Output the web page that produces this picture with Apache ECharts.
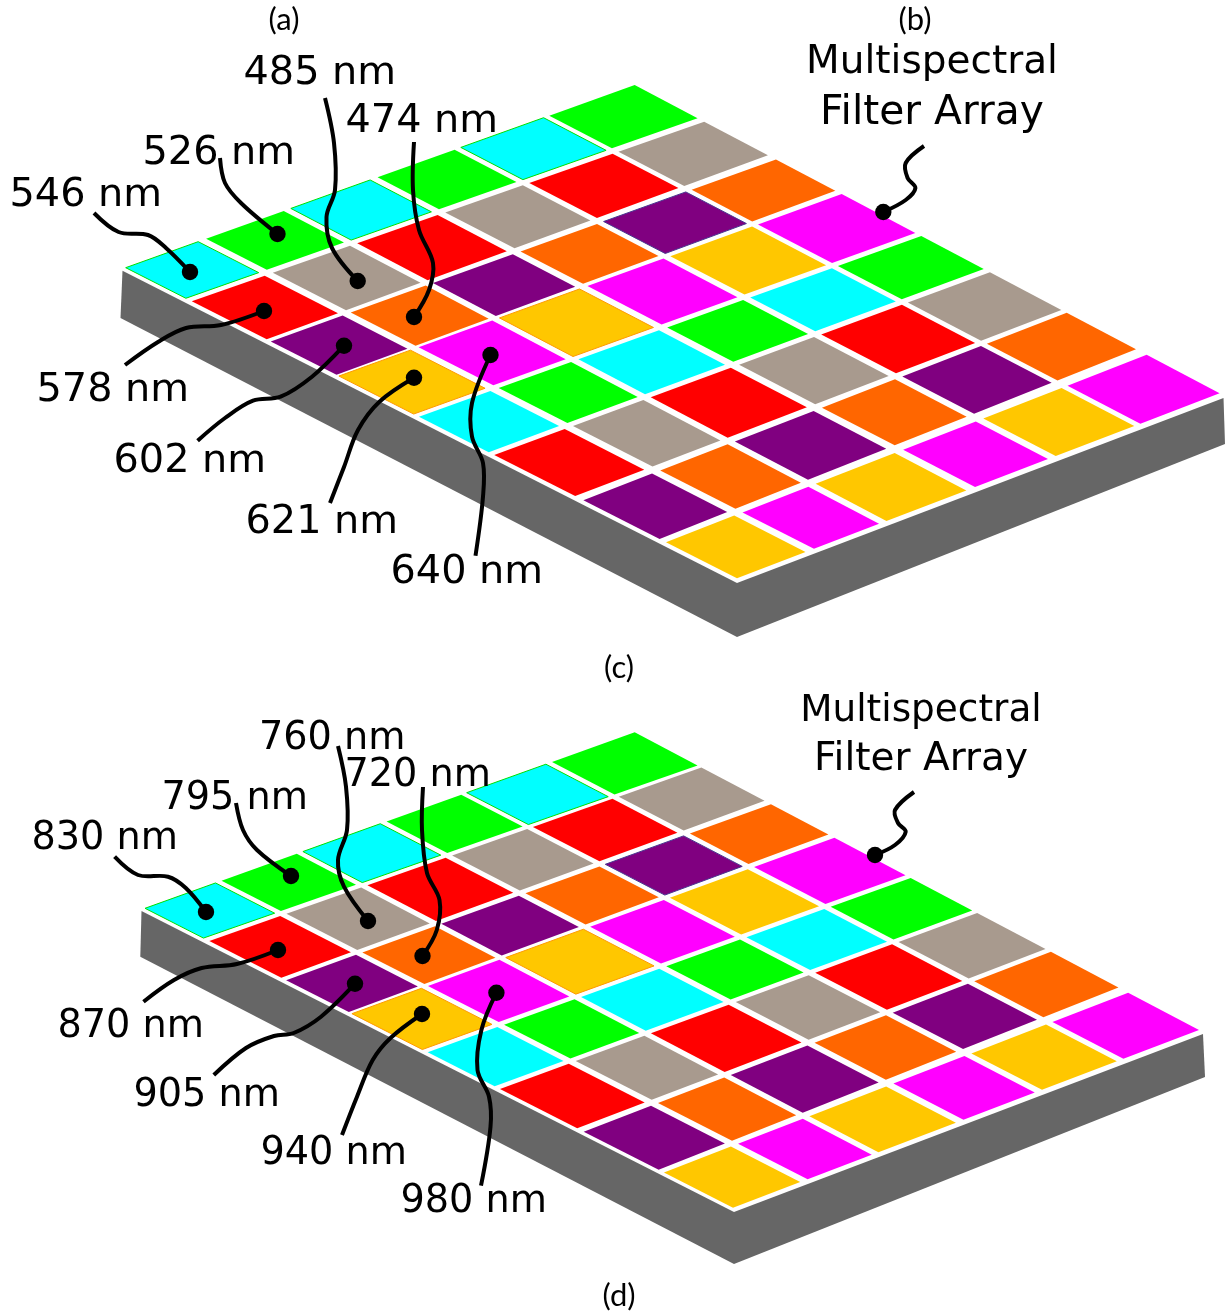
<!DOCTYPE html>
<html>
<head>
<meta charset="utf-8">
<style>html,body{margin:0;padding:0;background:#fff}#chart{width:1225px;height:1312px}</style>
<script src="https://cdn.jsdelivr.net/npm/echarts@6/dist/echarts.min.js"></script>
</head>
<body>
<div id="chart"></div>
<script>
// ---- filter mosaic: one 6 x 8 layout shared by both panels ----
const cellRows = [
  ['cyan','red','purple','yellow','cyan','red','purple','yellow'],
  ['green','gray','orange','magenta','green','gray','orange','magenta'],
  ['cyan','red','purple','yellow','cyan','red','purple','yellow'],
  ['green','gray','orange','magenta','green','gray','orange','magenta'],
  ['cyan','red','purple','yellow','cyan','red','purple','yellow'],
  ['green','gray','orange','magenta','green','gray','orange','magenta']
];
const labelsTop = ['546 nm','526 nm','485 nm','474 nm','578 nm','602 nm','621 nm','640 nm'];
const labelsBottom = ['830 nm','795 nm','760 nm','720 nm','870 nm','905 nm','940 nm','980 nm'];
const calloutLines = ['Multispectral','Filter Array'];
const panelTags = ['(a)','(b)','(c)','(d)'];

// ---- layout (separate from the values above) ----
const palette = {cyan:'#00FFFF',green:'#00FF00',red:'#FF0000',gray:'#A89A8E',purple:'#800080',orange:'#FF6600',yellow:'#FFC700',magenta:'#FF00FF'};
const outlined = [[0,0,'#00E000'],[0,2,'#00E000'],[0,4,'#00E000'],[3,0,'#FF9A00'],[3,2,'#FF9A00'],[2,4,'#4A3590']];
// tile start/end points read along the four rims of each mosaic
const panels = [
  {edgeA:[[125.7,267.7],[185.8,298.3],[190.5,301.7],[266.8,339.3],[272.7,340.7],[336,375],[339,376],[413,414.3],[421.7,415.7],[490,451.7],[496,454.3],[578,495],[584,500],[661.3,538.3],[663.2,543.3],[737,578.3]],
   edgeB:[[634.7,85],[698,118],[704,121.7],[768.6,155],[776.4,159.3],[835.4,190.7],[842,194],[916,232.7],[922.3,235.7],[985.6,268.3],[991.4,271.7],[1062.9,309.3],[1066.7,312.7],[1136.6,349],[1146.3,355],[1219.6,393.3]],
   edgeC:[[125.7,267.7],[198.8,242],[207,239.3],[283.8,211],[292.5,209.3],[370.8,180.3],[378.3,177.7],[455.3,150],[462.5,148.3],[544.7,118.3],[549.4,115.7],[634.7,85]],
   edgeD:[[737,578.3],[808,553.3],[811,547.3],[878,523.3],[884.5,520],[967.5,491],[972.5,485.7],[1047.8,459],[1055.5,456],[1134.3,426],[1138.5,422.7],[1219.6,393.3]],
   side:[[122.5,270.7],[737,583],[1223.5,398],[1225,444],[737,637],[120.5,318]]},
  {edgeA:[[145,908.3],[202.8,938.3],[207.5,941.7],[281.4,977.7],[286.6,980],[349.8,1011.7],[351,1014],[421,1050],[429.2,1051.7],[496.4,1085.7],[502,1088.3],[580,1127.3],[585.4,1131],[660,1169.3],[662,1173.3],[733,1207.7]],
   edgeB:[[634.7,732.3],[696,766],[701.9,767.3],[764.8,800.7],[771.4,804],[828.9,834.3],[835.4,837.3],[906,875],[912.3,877.3],[973.3,910],[979,912.3],[1047.4,948.3],[1051.3,951.7],[1118.9,987.3],[1128,992.7],[1199,1030]],
   edgeC:[[145,908.3],[216.2,883.3],[223.3,881.7],[297.2,854],[305.1,852.7],[381.4,824.3],[388.1,822.3],[462.5,795.3],[469.2,794],[547.4,765],[552.6,762.3],[634.7,732.3]],
   edgeD:[[733,1207.7],[802.6,1183.3],[804.6,1177.7],[870.2,1154],[876,1151],[955.9,1122.7],[960.5,1118.3],[1033,1091.7],[1040.9,1089.3],[1116.2,1061],[1121.2,1057.7],[1199,1030]],
   side:[[141.5,911],[734,1212],[1203,1034],[1205,1077],[734,1264],[140.3,956.7]]}
];
const labelPosTop = [[9.5,196],[142.5,154],[243.5,74],[345.5,122],[36.5,391],[113.5,462],[245.5,523],[390.5,573]];
const labelPosBottom = [[31.5,839],[161.5,799],[259,739],[344.5,776],[57.5,1027],[133.5,1096],[260.5,1154],[400.5,1202]];
const calloutPos = [[932,63,39],[932,113,40.8],[921,711,37.4],[921,760,39]];
const tagPos = [[284,20],[915,20],[619,668],[619,1296]];

const leaders = [
  [[94,213],[118.6,232],[148,235],[166,248],[190,272]],
  [[220,158],[225,183],[241,203],[277.5,234]],
  [[325,98],[334,143],[335,190],[326.5,217],[332,248],[357.7,281]],
  [[414,142],[413,190],[419,230],[433,263],[429,290],[414,317]],
  [[125,365],[158,342],[186,328],[221,325],[264,311]],
  [[197.6,440.7],[225,418],[253,400.7],[280.6,396.7],[312,376.7],[344,345.7]],
  [[330,503],[344,467],[358,430],[379.4,401.7],[414,377.7]],
  [[475.5,555.7],[483,496.7],[483,463],[472,436.7],[472,403],[490.5,355]],
  [[924,146],[905.7,163],[907.6,178],[915.4,188],[905.7,200],[883.3,212]],
  [[114.6,856.7],[138,875],[168,876.7],[185.8,888],[206,912]],
  [[236,803],[243,830],[257,850],[291,876]],
  [[338,746],[346,786.7],[347,830],[338,860],[344,886.7],[368,921]],
  [[423,787],[422,830],[427,873],[439.5,900],[436.8,930],[422.5,956]],
  [[143.5,1001.7],[174,980],[201.6,968],[237,964],[278,950]],
  [[213.8,1075],[246,1048],[274,1036],[293.7,1033],[321,1016.7],[355,983.7]],
  [[342,1135],[357,1096.7],[372.7,1060],[390.5,1038],[422,1014]],
  [[481,1185.7],[490.5,1126.7],[489,1096.7],[477.5,1070],[481.4,1030],[496.4,992.7]],
  [[914,792],[895,810],[898,823],[905.7,831.7],[895,845],[875,855]]
];

// a mosaic vertex is where an "along" rule (edgeA to edgeB) meets an "across" rule (edgeC to edgeD)
function vertex(p, k, l) {
  const a=p.edgeA[k], b=p.edgeB[k], c=p.edgeC[l], d=p.edgeD[l];
  const rx=b[0]-a[0], ry=b[1]-a[1], sx=d[0]-c[0], sy=d[1]-c[1];
  const den=rx*sy-ry*sx;
  const t=((c[0]-a[0])*sy-(c[1]-a[1])*sx)/den;
  return [a[0]+t*rx,a[1]+t*ry];
}

// ---- tables built from the arrays above ----
const tileData = [];
panels.forEach((_,pi)=>cellRows.forEach((row,across)=>row.forEach((name,along)=>{
  const o = outlined.find(q=>q[0]===along&&q[1]===across);
  tileData.push({value:[pi,along,across],name,edge:o?o[2]:null});
})));
const sideData = panels.map((_,i)=>[i]);
const textItems = [];
labelsTop.forEach((t,i)=>textItems.push({t,x:labelPosTop[i][0],y:labelPosTop[i][1],size:39.8,align:'left',font:'DejaVu Sans'}));
labelsBottom.forEach((t,i)=>textItems.push({t,x:labelPosBottom[i][0],y:labelPosBottom[i][1],size:38.2,align:'left',font:'DejaVu Sans'}));
[0,1,0,1].forEach((li,i)=>textItems.push({t:calloutLines[li],x:calloutPos[i][0],y:calloutPos[i][1],size:calloutPos[i][2],align:'center',font:'DejaVu Sans'}));
panelTags.forEach((t,i)=>textItems.push({t,x:tagPos[i][0],y:tagPos[i][1],size:31,align:'center',font:'Lato'}));

const blank = {show:false};
const option = {
  animation:false,
  backgroundColor:'#fff',
  grid:{left:0,right:0,top:0,bottom:0},
  xAxis:{type:'value',min:0,max:1225,axisLine:blank,axisTick:blank,axisLabel:blank,splitLine:blank},
  yAxis:{type:'value',min:0,max:1312,inverse:true,axisLine:blank,axisTick:blank,axisLabel:blank,splitLine:blank},
  series:[
    {type:'custom',silent:true,clip:false,data:sideData,z:1,encode:{x:[],y:[]},
     renderItem(params,api){
       const s = panels[params.dataIndex].side;
       const poly = idx=>({type:'polygon',shape:{points:idx.map(k=>api.coord(s[k]))},style:{fill:'#666666'}});
       return {type:'group',children:[poly([0,1,4,5]),poly([1,2,3,4])]};
     }},
    {type:'custom',silent:true,clip:false,data:tileData,z:2,encode:{x:[],y:[]},
     renderItem(params,api){
       const pi=api.value(0), a=api.value(1), c=api.value(2), p=panels[pi], item=tileData[params.dataIndex];
       const corners=[[2*a,2*c],[2*a,2*c+1],[2*a+1,2*c+1],[2*a+1,2*c]];
       const style={fill:palette[item.name]};
       if(item.edge){style.stroke=item.edge;style.lineWidth=1;}
       return {type:'polygon',shape:{points:corners.map(q=>api.coord(vertex(p,q[0],q[1])))},style};
     }},
    {type:'custom',silent:true,clip:false,data:leaders.map((_,i)=>[i]),z:3,encode:{x:[],y:[]},
     renderItem(params,api){
       const pts=leaders[params.dataIndex].map(q=>api.coord(q));
       const end=pts[pts.length-1];
       return {type:'group',children:[
         {type:'polyline',shape:{points:pts,smooth:0.35},style:{stroke:'#000',lineWidth:4,fill:null,lineCap:'butt'}},
         {type:'circle',shape:{cx:end[0],cy:end[1],r:8.2},style:{fill:'#000'}}
       ]};
     }},
    {type:'custom',silent:true,clip:false,data:textItems.map(d=>[d.x,d.y]),z:4,encode:{x:0,y:1},
     renderItem(params,api){
       const d=textItems[params.dataIndex], p=api.coord([d.x,d.y]);
       return {type:'text',x:p[0],y:p[1],style:{text:d.t,fill:'#000',font:d.size+'px "'+d.font+'"',textAlign:d.align,textVerticalAlign:'middle'}};
     }}
  ]
};
echarts.init(document.getElementById('chart'),null,{renderer:'canvas'}).setOption(option);
</script>
</body>
</html>
